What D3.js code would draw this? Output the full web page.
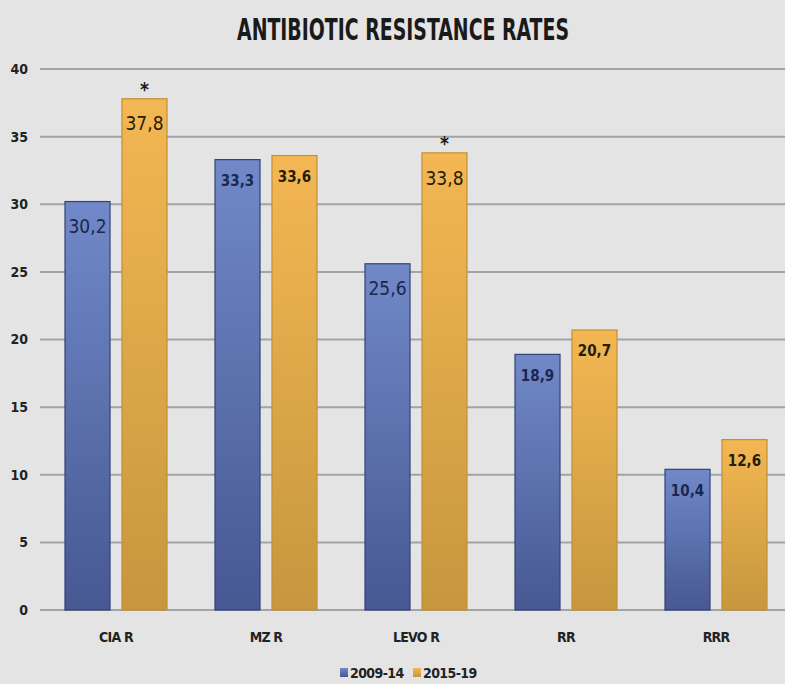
<!DOCTYPE html>
<html>
<head>
<meta charset="utf-8">
<script src="https://cdn.jsdelivr.net/npm/d3@7"></script>
<style>
  html, body { margin: 0; padding: 0; background: #e4e4e4; }
  svg { display: block; }
  text { font-family: "Liberation Sans Narrow", "DejaVu Sans Condensed", "Liberation Sans", sans-serif; }
</style>
</head>
<body>
<svg id="chart" width="785" height="684"></svg>
<script>
// ---- data ----
const categories = ["CIA R", "MZ R", "LEVO R", "RR", "RRR"];
const seriesNames = ["2009-14", "2015-19"];
const values2009 = [30.2, 33.3, 25.6, 18.9, 10.4];
const values2015 = [37.8, 33.6, 33.8, 20.7, 12.6];
const significant2015 = [true, false, true, false, false];
const yTicks = [0, 5, 10, 15, 20, 25, 30, 35, 40];
const title = "ANTIBIOTIC RESISTANCE RATES";

// ---- styles ----
const W = 785, H = 684;
const colors = {
  "2009-14": { top: "#7189c8", bottom: "#475893", stroke: "#34427a", text: "#1c2750" },
  "2015-19": { top: "#f3b753", bottom: "#c6973e", stroke: "#c48f35", text: "#261d08" }
};
const bigLabel = new Set(["0-0", "0-1", "2-0", "2-1"]);

const svg = d3.select("#chart");
svg.append("rect").attr("width", W).attr("height", H).attr("fill", "#e4e4e4");

const defs = svg.append("defs");
seriesNames.forEach((s, i) => {
  const g = defs.append("linearGradient").attr("id", "grad" + i)
    .attr("x1", 0).attr("y1", 0).attr("x2", 0).attr("y2", 1);
  g.append("stop").attr("offset", "0%").attr("stop-color", colors[s].top);
  g.append("stop").attr("offset", "100%").attr("stop-color", colors[s].bottom);
});

const y = d3.scaleLinear().domain([0, 40]).range([610, 69]);
const x0 = d3.scaleBand().domain(categories).range([41, 791]).paddingInner(0.32).paddingOuter(0.16);
const x1 = d3.scaleBand().domain(seriesNames).range([0, x0.bandwidth()]).paddingInner(0.21);

// gridlines
svg.append("g").selectAll("line").data(yTicks).join("line")
  .attr("x1", 40).attr("x2", W)
  .attr("y1", d => y(d)).attr("y2", d => y(d))
  .attr("stroke", "#a3a3a3").attr("stroke-width", 2);

// y tick labels
svg.append("g").selectAll("text").data(yTicks).join("text")
  .attr("x", 28).attr("y", d => y(d)).attr("dy", "0.35em")
  .attr("text-anchor", "end").attr("font-size", 14).attr("fill", "#222")
  .attr("font-weight", "bold")
  .text(d => d);

// title
svg.append("text").attr("x", 403).attr("y", 40)
  .attr("text-anchor", "middle").attr("font-size", 30).attr("font-weight", "bold")
  .attr("fill", "#1a1a1a")
  .attr("textLength", 332).attr("lengthAdjust", "spacingAndGlyphs")
  .text(title);

// bars
const rows = categories.map((c, i) => ({ c, i, vals: [values2009[i], values2015[i]] }));
const groups = svg.append("g").selectAll("g").data(rows).join("g")
  .attr("transform", d => `translate(${x0(d.c)},0)`);

groups.selectAll("rect").data(d => d.vals.map((v, k) => ({ v, k, i: d.i }))).join("rect")
  .attr("x", d => x1(seriesNames[d.k]))
  .attr("width", x1.bandwidth())
  .attr("y", d => y(d.v))
  .attr("height", d => y(0) - y(d.v))
  .attr("fill", d => `url(#grad${d.k})`)
  .attr("stroke", d => colors[seriesNames[d.k]].stroke)
  .attr("stroke-width", 1.2);

groups.selectAll("text.val").data(d => d.vals.map((v, k) => ({ v, k, i: d.i }))).join("text")
  .attr("class", "val")
  .attr("x", d => x1(seriesNames[d.k]) + x1.bandwidth() / 2)
  .attr("y", d => y(d.v) + (bigLabel.has(d.i + "-" + d.k) ? 25 : 21))
  .attr("dy", "0.35em")
  .attr("text-anchor", "middle")
  .attr("font-size", d => bigLabel.has(d.i + "-" + d.k) ? 19 : 15)
  .attr("font-weight", d => bigLabel.has(d.i + "-" + d.k) ? "normal" : "bold")
  .attr("fill", d => colors[seriesNames[d.k]].text)
  .text(d => d3.format(".1f")(d.v).replace(".", ","));

// significance asterisks
groups.filter(d => significant2015[d.i]).append("text")
  .attr("x", x1("2015-19") + x1.bandwidth() / 2)
  .attr("y", d => y(d.vals[1]) - 3)
  .attr("text-anchor", "middle").attr("font-size", 19).attr("font-weight", "bold")
  .attr("fill", "#1a1a1a")
  .text("*");

// x axis labels
svg.append("g").selectAll("text").data(categories).join("text")
  .attr("x", d => x0(d) + x0.bandwidth() / 2).attr("y", 637).attr("dy", "0.35em")
  .attr("text-anchor", "middle").attr("font-size", 14).attr("font-weight", "bold")
  .attr("fill", "#222").attr("letter-spacing", -0.8)
  .text(d => d);

// legend
const legend = svg.append("g");
const legendX = [340, 413];
seriesNames.forEach((s, i) => {
  legend.append("rect").attr("x", legendX[i]).attr("y", 668).attr("width", 8).attr("height", 9)
    .attr("fill", `url(#grad${i})`);
  legend.append("text").attr("x", legendX[i] + 10).attr("y", 673).attr("dy", "0.35em")
    .attr("font-size", 14).attr("font-weight", "bold").attr("fill", "#222").attr("letter-spacing", -0.6)
    .text(s);
});
</script>
</body>
</html>
